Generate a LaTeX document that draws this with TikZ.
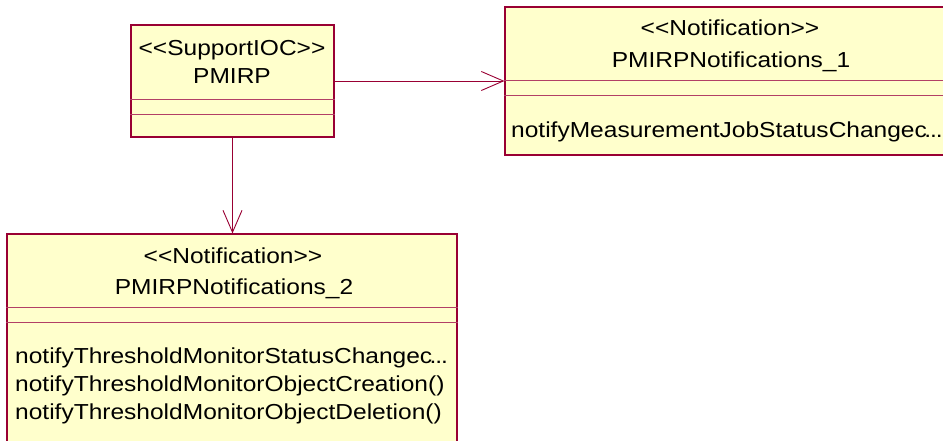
\documentclass[tikz,border=0pt]{standalone}
\usepackage{fontspec}
\setmainfont{Liberation Sans}[FakeStretch=1.13]
\usetikzlibrary{arrows.meta}
\definecolor{roseline}{RGB}{153,0,51}
\definecolor{rosefill}{RGB}{255,255,204}

\begin{document}
\begin{tikzpicture}[x=1pt, y=-1pt,
	classbox/.style={draw=roseline, fill=rosefill, line width=1.1pt, inner sep=0pt},
	divider/.style={draw=roseline!75, line width=0.9pt},
	txt/.style={anchor=base, inner sep=0pt, font=\fontsize{21.7}{28}\selectfont},
	optxt/.style={txt, anchor=base west},
	assoc/.style={draw=roseline, line width=0.9pt, -{Straight Barb[length=22pt, width=19pt]}}]
	%%%%% frame %%%%%
	\useasboundingbox (0,0) rectangle (943,441);
	\clip (0,0) rectangle (943,441);
	
	%%%%% classes %%%%%
	\node[classbox, minimum width=203pt, minimum height=112pt] (pmirp) at (232.5,81) {};
	\node[classbox, minimum width=455pt, minimum height=148pt] (notifA) at (732.5,81) {};
	\node[classbox, minimum width=450pt, minimum height=246pt] (notifB) at (232,357) {};
	
	\draw[divider] (pmirp.west |- 0,99) -- (pmirp.east |- 0,99);
	\draw[divider] (pmirp.west |- 0,114) -- (pmirp.east |- 0,114);
	\draw[divider] (notifA.west |- 0,80) -- (notifA.east |- 0,80);
	\draw[divider] (notifA.west |- 0,95) -- (notifA.east |- 0,95);
	\draw[divider] (notifB.west |- 0,307) -- (notifB.east |- 0,307);
	\draw[divider] (notifB.west |- 0,322) -- (notifB.east |- 0,322);
	
	%%%%% texts %%%%%
	\node[txt] (pmirpStereo) at (232,56) {<\kern0pt<SupportIOC>\kern0pt>};
	\node[txt] (pmirpName) at (232,84) {PMIRP};
	
	\node[txt] (notifAStereo) at (730,36) {<\kern0pt<Notification>\kern0pt>};
	\node[txt] (notifAName) at (731,68) {PMIRPNotifications\_1};
	\node[optxt] (notifAOp) at (511,138) {notifyMeasurementJobStatusChangec\kern-0.12em.\kern-0.05em.\kern-0.05em.};
	
	\node[txt] (notifBStereo) at (233,263) {<\kern0pt<Notification>\kern0pt>};
	\node[txt] (notifBName) at (234,294) {PMIRPNotifications\_2};
	\node[optxt] (notifBOpA) at (15,363) {notifyThresholdMonitorStatusChangec\kern-0.12em.\kern-0.05em.\kern-0.05em.};
	\node[optxt] (notifBOpB) at (15,391) {notifyThresholdMonitorObjectCreation()};
	\node[optxt] (notifBOpC) at (15,419) {notifyThresholdMonitorObjectDeletion()};
	
	%%%%% associations %%%%%
	\draw[assoc] (pmirp.east) -- (notifA.west);
	\draw[assoc] (pmirp.south) -- (pmirp.south |- notifB.north);
\end{tikzpicture}
\end{document}
